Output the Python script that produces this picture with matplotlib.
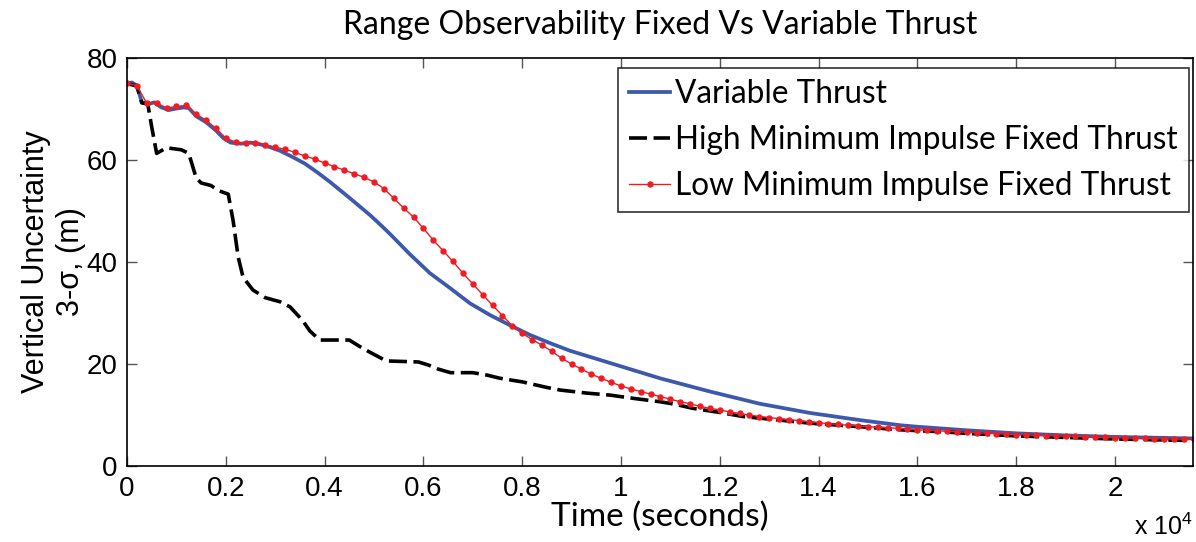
import numpy as np
import matplotlib
matplotlib.use("Agg")
import matplotlib.pyplot as plt
from matplotlib.ticker import FuncFormatter

plt.rcParams['font.family'] = ['Liberation Sans', 'DejaVu Sans']
plt.rcParams['mathtext.fontset'] = 'custom'
plt.rcParams['mathtext.rm'] = 'Liberation Sans'

# --- data (time in s, uncertainty in m) ---
variable_t = [0, 100, 200, 300, 450, 550, 700, 850, 1000, 1150, 1250, 1400, 1600, 1800,
              1950, 2100, 2300, 2500, 2650, 2900, 3100, 3350, 3600, 3850, 4109, 4514,
              4919, 5120, 5324, 5729, 6134, 6538, 6943, 7348, 7753, 8158, 8563, 8968, 9777,
              10789, 11802, 12814, 13826, 14838, 15648, 16000, 17000, 18016, 19000, 20000, 21580]
variable_v = [75.0, 75.2, 74.6, 71.3, 71.0, 71.3, 70.3, 69.8, 70.1, 70.3, 70.2, 68.6, 67.4, 65.8,
              64.3, 63.4, 63.2, 63.4, 63.2, 62.5, 61.8, 60.6, 59.3, 57.6, 55.7, 52.5,
              49.2, 47.4, 45.5, 41.5, 37.8, 34.9, 31.9, 29.6, 27.6, 25.7, 24.1, 22.6, 20.2,
              17.2, 14.6, 12.2, 10.4, 9.0, 8.0, 7.7, 7.0, 6.4, 6.0, 5.7, 5.4]

high_t = [0, 200, 300, 420, 500, 600, 800, 1100, 1250, 1400, 1500, 1700, 1850, 2050, 2150,
          2250, 2350, 2550, 2800, 3100, 3300, 3550, 3700, 3900, 4500, 4700, 4900, 5250,
          5900, 6100, 6300, 6550, 7000, 7300, 7550, 8000, 8500, 8765, 9300, 9777, 10300,
          10789, 11100, 11457, 12000, 12470, 13000, 13826, 14838, 15648, 16500, 17000,
          18000, 19000, 20000, 21000, 21580]
high_v = [75.0, 74.5, 71.2, 71.0, 66.5, 61.3, 62.4, 62.0, 61.3, 56.5, 55.5, 55.0, 54.0, 53.3, 48.0,
          41.0, 37.0, 34.5, 33.0, 32.2, 31.2, 28.6, 26.5, 24.7, 24.7, 23.5, 22.4, 20.6,
          20.4, 19.8, 19.0, 18.3, 18.3, 17.8, 17.2, 16.5, 15.4, 14.9, 14.3, 13.9, 13.2,
          12.6, 12.1, 11.3, 10.5, 9.7, 9.2, 8.4, 7.7, 7.1, 6.7, 6.4,
          5.9, 5.6, 5.3, 5.1, 5.0]

# low-impulse run is sampled every 200 s (one marker per sample)
low_step = 200
low_v = [75.0, 74.6, 71.1, 71.2, 70.2, 70.5, 70.7, 69.0, 67.8, 66.2,
         64.3, 63.5, 63.3, 63.4, 63.0, 62.5, 62.1, 61.5, 60.8, 60.2,
         59.4, 58.7, 58.0, 57.3, 56.6, 55.7, 54.4, 52.5, 50.6, 48.8,
         46.6, 44.3, 42.2, 40.1, 37.8, 35.7, 33.6, 31.5, 29.5, 27.5,
         26.0, 24.8, 23.7, 22.5, 21.1, 20.0, 19.0, 18.0, 17.2, 16.4,
         15.7, 15.1, 14.6, 14.1, 13.6, 13.1, 12.6, 12.2, 11.7, 11.3,
         11.0, 10.6, 10.3, 10.0, 9.7, 9.5, 9.3, 9.1, 8.9, 8.7,
         8.5, 8.3, 8.15, 8.0, 7.85, 7.7, 7.6, 7.5, 7.4, 7.25,
         7.1, 7.0, 6.9, 6.8, 6.7, 6.6, 6.5, 6.45, 6.35, 6.25,
         6.15, 6.1, 6.0, 5.95, 5.9, 5.85, 5.8, 5.7, 5.65, 5.6,
         5.55, 5.5, 5.45, 5.4, 5.35, 5.3, 5.3, 5.25, 5.2]
low_t = np.arange(len(low_v)) * low_step

labels = ['Variable Thrust', 'High Minimum Impulse Fixed Thrust', 'Low Minimum Impulse Fixed Thrust']
y_ticks = [0, 20, 40, 60, 80]
x_ticks = [0, 2000, 4000, 6000, 8000, 10000, 12000, 14000, 16000, 18000, 20000]

fig = plt.figure(figsize=(11.96, 5.42), dpi=100)
ax = fig.add_axes([127 / 1196, 76 / 542, 1066 / 1196, 408 / 542])

ax.plot(variable_t, variable_v, color='#3d59ab', lw=2.7, label=labels[0])
ax.plot(high_t, high_v, color='black', lw=2.6, dashes=(5, 1.8), label=labels[1])
ax.plot(low_t, low_v, color='#f01c24', lw=1.0, marker='o', markersize=4.6,
        markeredgewidth=0, label=labels[2])

ax.set_xlim(0, 21580)
ax.set_ylim(0, 80)
ax.set_xticks(x_ticks)
ax.set_yticks(y_ticks)
ax.xaxis.set_major_formatter(FuncFormatter(lambda v, p: f"{v / 1e4:g}"))
ax.tick_params(direction='in', length=7, width=1, colors='#555555', labelcolor='black',
               labelsize=20, top=True, right=True, pad=7)
for s in ax.spines.values():
    s.set_linewidth(1.2)

ax.set_title('Range Observability Fixed Vs Variable Thrust', family='Lato', fontsize=23, pad=17)
ax.set_xlabel('Time (seconds)', family='Lato', fontsize=24, labelpad=0)
ax.set_ylabel('Vertical Uncertainty\n3-σ, (m)', fontsize=22, labelpad=0.5, linespacing=1.2)
ax.text(1.0, -0.17, r'x 10$^4$', transform=ax.transAxes, ha='right', va='baseline', fontsize=18)

leg = ax.legend(loc='upper right', bbox_to_anchor=(0.996, 0.9755), prop={'family': 'Lato', 'size': 22.7},
                frameon=True, fancybox=False, edgecolor='black', handlelength=1.3,
                handletextpad=0.15, labelspacing=0.5, borderpad=0.35, borderaxespad=0)
leg.get_frame().set_linewidth(1.2)

fig.savefig('out.png', dpi=100)
